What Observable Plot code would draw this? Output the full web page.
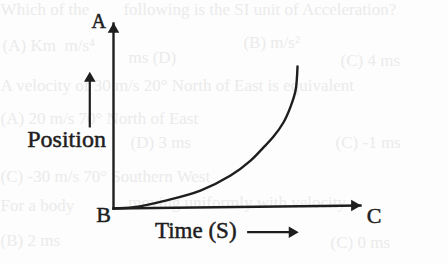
<!DOCTYPE html>
<html>
<head>
<meta charset="utf-8">
<script src="https://cdn.jsdelivr.net/npm/d3@7"></script>
<script src="https://cdn.jsdelivr.net/npm/@observablehq/plot@0.6"></script>
<style>
  html, body { margin: 0; padding: 0; background: #fdfdfd; }
  #chart { width: 448px; height: 264px; overflow: hidden; }
</style>
</head>
<body>
<div id="chart"></div>
<script>
// Curve (schematic units: time 0..10, position 0..10)
const curveTime     = [0, 0.81, 2.11, 3.52, 4.74, 5.55, 6.03, 6.48, 6.88, 7.17, 7.37, 7.45];
const curvePosition = [0, 0.07, 0.43, 0.97, 1.78, 2.59, 3.24, 3.89, 4.65, 5.51, 6.38, 7.68];

// Axis extents
const axisEnd = { time: 10, position: 10, tilt: 0.16 };

// Labels (schematic units)
const labelText = ["A", "B", "C", "Position", "Time (S)"];
const labelTime = [-0.6, -0.4, 10.55, -1.9, 3.33];
const labelPos  = [10.1, -0.35, -0.4, 3.73, -1.22];
const labelSize = [20, 22, 22, 24, 23];

// Direction arrows beside the axis titles
const arrowFrom = [{t: -0.96, p: 4.38}, {t: 5.41, p: -1.28}];
const arrowTo   = [{t: -0.96, p: 7.03}, {t: 7.23, p: -1.28}];
const arrowRotate = [0, 90];

// Faint print showing through from the other side of the page
const bleedText = [
  "Which of the",
  "following is the SI unit of Acceleration?",
  "(A) Km  m/s\u2074",
  "(B) m/s\u00B2",
  "ms (D)",
  "(C) 4 ms",
  "A velocity of 30 m/s 20\u00B0 North of East is equivalent",
  "(A) 20 m/s 70\u00B0 North of East",
  "(D) 3 ms",
  "(C) -1 ms",
  "(C) -30 m/s 70\u00B0 Southern West",
  "For a body",
  "moving uniformly with velocity",
  "(B) 2 ms",
  "(C) 0 ms"
];
const bleedTime = [-4.57, 0.4, -4.49, 5.26, 0.61, 9.19, -4.57, -4.57, 0.69, 8.99, -4.57, -4.57, 0.6, -4.57, 8.79];
const bleedPos  = [10.76, 10.76, 8.81, 8.97, 8.16, 8.0, 6.65, 4.86, 3.57, 3.57, 1.73, 0.16, 0.3, -1.73, -1.85];

const curve = curveTime.map((t, i) => ({t, p: curvePosition[i]}));
const labels = labelText.map((s, i) => ({s, t: labelTime[i], p: labelPos[i], size: labelSize[i]}));
const arrows = arrowFrom.map((a, i) => ({t1: a.t, p1: a.p, t2: arrowTo[i].t, p2: arrowTo[i].p, r: arrowRotate[i]}));
const bleed = bleedText.map((s, i) => ({s, t: bleedTime[i], p: bleedPos[i]}));

const ink = "#1e1e1e";
const serif = "Liberation Serif, Times New Roman, serif";

const textMarks = [20, 22, 23, 24].map(size =>
  Plot.text(labels.filter(d => d.size === size), {x: "t", y: "p", text: "s", fontSize: size,
    fontFamily: serif, fill: ink, stroke: ink, strokeWidth: 0.5}));

const chart = Plot.plot({
  width: 448,
  height: 264,
  marginLeft: 113,
  marginRight: 88,
  marginTop: 23,
  marginBottom: 56,
  x: {domain: [0, axisEnd.time], axis: null},
  y: {domain: [0, axisEnd.position], axis: null},
  style: {background: "#fdfdfd", overflow: "visible"},
  marks: [
    Plot.text(bleed, {x: "t", y: "p", text: "s", textAnchor: "start", fontSize: 17,
      fontFamily: serif, fill: "#ebebeb"}),
    // axes
    Plot.link([{x1: 0, y1: 0, x2: 0, y2: axisEnd.position}], {
      x1: "x1", y1: "y1", x2: "x2", y2: "y2", stroke: ink, strokeWidth: 2.4, strokeLinecap: "square"}),
    Plot.link([{x1: 0, y1: 0, x2: axisEnd.time, y2: axisEnd.tilt}], {
      x1: "x1", y1: "y1", x2: "x2", y2: "y2", stroke: ink, strokeWidth: 2.4, strokeLinecap: "square"}),
    Plot.dot([{t: 0, p: axisEnd.position}], {x: "t", y: "p", symbol: "triangle", r: 4.3,
      fill: ink, stroke: "none", dy: 6}),
    Plot.dot([{t: axisEnd.time, p: axisEnd.tilt}], {x: "t", y: "p", symbol: "triangle", r: 4.3,
      fill: ink, stroke: "none", rotate: 90, dx: -6}),
    // curve
    Plot.line(curve, {x: "t", y: "p", curve: "catmull-rom", stroke: ink, strokeWidth: 2.4}),
    // direction arrows
    Plot.link(arrows, {x1: "t1", y1: "p1", x2: "t2", y2: "p2", stroke: ink, strokeWidth: 2.2}),
    Plot.dot(arrows, {x: "t2", y: "p2", symbol: "triangle", r: 4.3, rotate: "r", fill: ink, stroke: "none"}),
    // labels
    ...textMarks
  ]
});
document.getElementById("chart").appendChild(chart);
</script>
</body>
</html>
